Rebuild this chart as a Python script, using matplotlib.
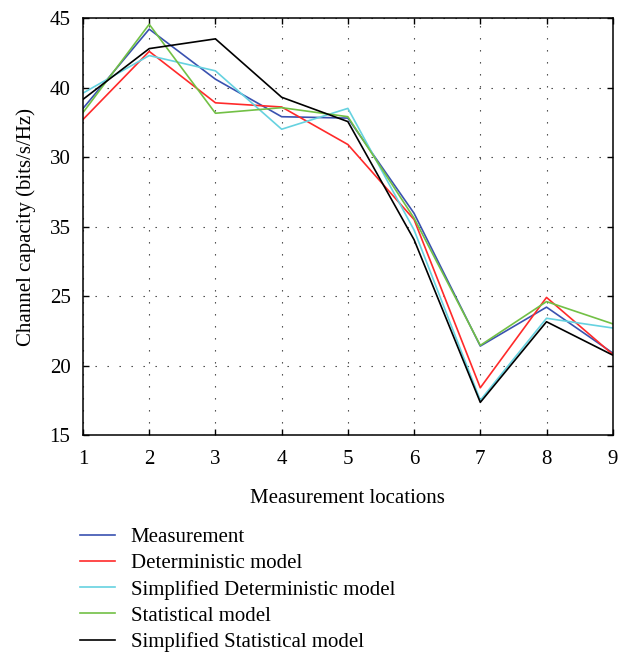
import numpy as np
import matplotlib
matplotlib.use("Agg")
import matplotlib.pyplot as plt

plt.rcParams['font.family'] = ['Liberation Serif', 'DejaVu Serif']

locations = [1, 2, 3, 4, 5, 6, 7, 8, 9]
measurement = [38.5, 44.2, 40.6, 37.9, 37.8, 30.95, 21.4, 24.2, 20.9]
deterministic = [37.7, 42.6, 38.9, 38.6, 35.9, 30.5, 18.4, 24.9, 20.8]
simp_deterministic = [39.6, 42.3, 41.2, 37.0, 38.5, 29.75, 17.5, 23.4, 22.7]
statistical = [38.2, 44.55, 38.15, 38.55, 37.9, 30.6, 21.45, 24.6, 23.0]
simp_statistical = [39.15, 42.8, 43.5, 39.3, 37.55, 29.05, 17.35, 23.15, 20.75]

labels = ['Measurement', 'Deterministic model', 'Simplified Deterministic model',
          'Statistical model', 'Simplified Statistical model']
colors = ['#3a52b0', '#ff2a2a', '#66d2e0', '#72c045', '#000000']

yticks = [15, 20, 25, 30, 35, 40, 45]
ytick_labels = ['15', '20', '25', '35', '30', '40', '45']  # as printed in the original

fig = plt.figure(figsize=(6.26, 6.53), dpi=100)
ax = fig.add_axes([0.1326, 0.3338, 0.8462, 0.6386])

series = [measurement, deterministic, simp_deterministic, statistical, simp_statistical]
for vals, lab, c in zip(series, labels, colors):
    ax.plot(locations, vals, color=c, lw=1.2, label=lab)

ax.set_xlim(1, 9)
ax.set_ylim(15, 45)
ax.set_xticks(locations)
ax.set_yticks(yticks)
ax.set_yticklabels(ytick_labels)
ax.grid(True, color='#333333', lw=0.8, linestyle=(0, (1.2, 9.6)))
ax.tick_params(direction='in', top=True, right=True, length=4, width=1,
               labelsize=15, pad=9)
ax.tick_params(axis='x', pad=11)
for s in ax.spines.values():
    s.set_linewidth(1.1)

ax.set_xlabel('Measurement locations', fontsize=15, labelpad=14)
ax.set_ylabel('Channel capacity (bits/s/Hz)', fontsize=15, labelpad=10)

fig.legend(loc='upper left', bbox_to_anchor=(0.127, 0.192), frameon=False,
           fontsize=15, handlelength=1.7, handletextpad=0.75, labelspacing=0.31,
           borderaxespad=0, borderpad=0)

fig.savefig('out.png', dpi=100)
